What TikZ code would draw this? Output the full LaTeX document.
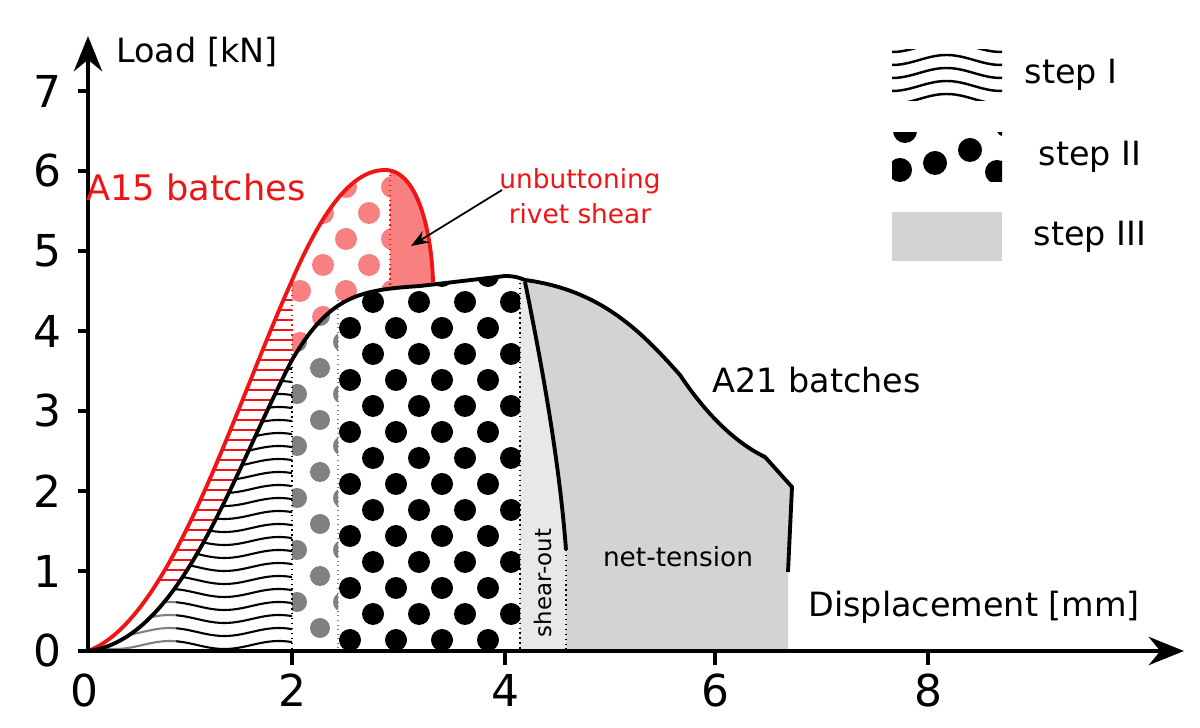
\documentclass[tikz,border=0pt]{standalone}
\usepackage{fontspec}
\setmainfont{DejaVu Sans}
\usetikzlibrary{arrows.meta}
\definecolor{pinkd}{RGB}{248,128,128}
\definecolor{redc}{RGB}{240,20,20}
\definecolor{gfill}{RGB}{211,211,211}
\definecolor{glight}{RGB}{232,232,232}
\tikzset{
 axis/.style={line width=1.4pt,-{Stealth[length=10pt,width=8pt]}},
 curveb/.style={line width=1.1pt,black},
 curver/.style={line width=1.1pt,redc},
 vdot/.style={densely dotted,line width=0.4pt},
 tick/.style={font=\fontsize{12.5}{14}\selectfont},
 lbl/.style={font=\fontsize{9.5}{11}\selectfont},
}
\def\blackpath{(88,651) .. controls (180,640) and (230,480) .. (292,360) .. controls (330,295) and (360,290) .. (420,286) -- (505,276) .. controls (515,276) and (520,278) .. (525,280) .. controls (600,290) and (640,330) .. (680,375) .. controls (710,420) and (740,445) .. (765,457) -- (792,487) -- (788,572) -- (788,651) -- cycle}
\def\redpath{(88,651) .. controls (170,620) and (230,420) .. (290,285) .. controls (320,215) and (350,170) .. (385,170) .. controls (420,170) and (432,240) .. (433,282) -- (433,651) -- cycle}
\begin{document}
\begin{tikzpicture}[x=0.01cm,y=-0.01cm]
\useasboundingbox (0,0) rectangle (1200,728);
\begin{scope}
 \clip \redpath;
 \begin{scope}
  \clip (88,300) rectangle (292,651);
  \foreach \k in {0,...,30} \draw[redc,line width=0.6pt] (88,{580-10*\k}) -- (300,{580-10*\k});
 \end{scope}
 \fill[pinkd] (390,150) rectangle (440,300);
 \begin{scope}
  \clip (292,150) rectangle (390,651);
  \foreach \r in {0,...,8} \foreach \c in {0,...,3}
   \fill[pinkd] ({300+46*\c+23*mod(\r,2)},{395-26*\r}) circle (11);
 \end{scope}
\end{scope}
\fill[white] \blackpath;
\begin{scope}
 \clip \blackpath;
 \fill[glight] (520,200) rectangle (800,651);
 \fill[gfill] (525,280) .. controls (545,380) and (560,470) .. (566,550) -- (566,651) -- (800,651) -- (800,200) -- cycle;
 \begin{scope}
  \clip (338,200) rectangle (520,651);
  \foreach \r in {0,...,15} \foreach \c in {0,...,4}
   \fill ({350+46*\c+23*mod(\r,2)},{640-26*\r}) circle (11);
 \end{scope}
 \begin{scope}
  \clip (292,200) rectangle (338,651);
  \foreach \r in {0,...,15} \foreach \c in {0,1}
   \fill[gray] ({320+46*\c-23*mod(\r,2)},{628-26*\r}) circle (10);
 \end{scope}
 \begin{scope}
  \clip (176,200) rectangle (292,651);
  \foreach \k in {0,...,24}
   \draw[line width=0.6pt] plot[domain=170:300,samples=30] (\x,{645-13*\k+4*sin((\x-88)*3.3)});
 \end{scope}
 \begin{scope}
  \clip (88,200) rectangle (176,651);
  \foreach \k in {0,...,24}
   \draw[gray,line width=0.6pt] plot[domain=80:180,samples=30] (\x,{645-13*\k+4*sin((\x-88)*3.3)});
 \end{scope}
\end{scope}
\draw[vdot] (292,362) -- (292,651);
\draw[vdot,redc] (292,285) -- (292,362);
\draw[densely dotted,gray,line width=0.3pt] (338,300) -- (338,651);
\draw[vdot,redc] (390,170) -- (390,288);
\draw[vdot] (520,278) -- (520,651);
\draw[vdot] (566,550) -- (566,651);
\draw[curver] (88,651) .. controls (170,620) and (230,420) .. (290,285) .. controls (320,215) and (350,170) .. (385,170) .. controls (420,170) and (432,240) .. (433,282);
\draw[curveb] (88,651) .. controls (180,640) and (230,480) .. (292,360) .. controls (330,295) and (360,290) .. (420,286) -- (505,276) .. controls (515,276) and (520,278) .. (525,280) .. controls (600,290) and (640,330) .. (680,375) .. controls (710,420) and (740,445) .. (765,457) -- (792,487) -- (788,572);
\draw[curveb] (525,282) .. controls (545,380) and (560,470) .. (566,550);
\coordinate (O) at (88,651);
\coordinate (xe) at (1184,651);
\coordinate (ye) at (88,36);
\draw[axis] (O) -- (xe);
\draw[axis] (O) -- (ye);
\foreach \v/\px in {2/292,4/505,6/715,8/928}{
 \draw[line width=1.4pt] (\px,651) -- (\px,665);
 \node[tick] (xt\v) at (\px,690) {\v};}
\node[tick] (xt0) at (84,690) {0};
\foreach \v in {0,...,7}{
 \draw[line width=1.4pt] (78,{651-80*\v}) -- (88,{651-80*\v});
 \node[tick,anchor=east] (yt\v) at (74,{651-80*\v}) {\v};}
\node[lbl,anchor=west] (ylab) at (104,52) {Load [kN]};
\node[lbl,anchor=west] (xlab) at (796,607) {Displacement [mm]};
\node[redc,font=\fontsize{10}{12}\selectfont] (a15) at (196,187) {A15 batches};
\node[redc,font=\fontsize{7.5}{10}\selectfont,align=center] (unb) at (580,196) {unbuttoning\\rivet shear};
\coordinate (arr) at (411,246);
\draw[-{Stealth[length=5pt]},line width=0.5pt] (502,190) -- (arr);
\node[lbl,anchor=west] (a21) at (700,380) {A21 batches};
\node[font=\fontsize{6.5}{8}\selectfont,rotate=90] (so) at (543,583) {shear-out};
\node[font=\fontsize{7.5}{9}\selectfont] (nt) at (678,557) {net-tension};
\begin{scope}
 \clip (892,50) rectangle (1002,101);
 \foreach \k in {0,...,4}
  \draw[line width=0.7pt] plot[domain=885:1010,samples=40] (\x,{47+13*\k+5*sin((\x-892)*3.3+90)});
\end{scope}
\begin{scope}
 \clip (892,133) rectangle (1002,182);
 \fill (905,131) circle (12);
 \fill (900,170) circle (12);
 \fill (935,163) circle (12);
 \fill (970,150) circle (12);
 \fill (997,172) circle (12);
 \fill (1003,130) circle (6);
\end{scope}
\fill[gfill] (892,212) rectangle (1002,261);
\node[lbl] (l1) at (1071,75) {step I};
\node[lbl] (l2) at (1090,157) {step II};
\node[lbl] (l3) at (1090,237) {step III};
\end{tikzpicture}
\end{document}
